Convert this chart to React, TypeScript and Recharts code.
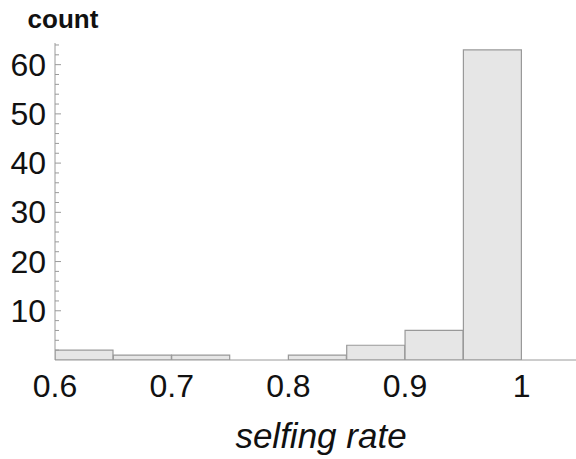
import React from "react";
import { BarChart, Bar, XAxis, YAxis } from "recharts";

const binCenters = [0.625, 0.675, 0.725, 0.775, 0.825, 0.875, 0.925, 0.975];
const counts = [2, 1, 1, 0, 1, 3, 6, 63];
const xTicks = [0.6, 0.7, 0.8, 0.9, 1];
const yTicks = [2, 4, 6, 8, 10, 12, 14, 16, 18, 20, 22, 24, 26, 28, 30, 32, 34, 36, 38, 40, 42, 44, 46, 48, 50, 52, 54, 56, 58, 60, 62, 64];
const yLabelTicks = [10, 20, 30, 40, 50, 60];

const data = binCenters.map((c, i) => ({ x: c, count: counts[i] }));

const FONT = "'Liberation Sans', Arial, sans-serif";
const AXIS = "#9a9a9a";

const YTick = (props: any) => {
  const { x, y, payload } = props;
  const v = payload.value;
  const major = yLabelTicks.includes(v);
  return (
    <g>
      <line x1={x} x2={x + (major ? 6 : 4)} y1={y} y2={y} stroke={AXIS} strokeWidth={1} />
      {major && (
        <text x={x - 9} y={y + 11} textAnchor="end" fontSize={32} fontFamily={FONT} fill="#111">
          {v}
        </text>
      )}
    </g>
  );
};

const XTick = (props: any) => {
  const { x, y, payload } = props;
  const v = payload.value;
  return (
    <text x={x} y={y + 37} textAnchor="middle" fontSize={32} fontFamily={FONT} fill="#111">
      {v === 1 ? "1" : v.toFixed(1)}
    </text>
  );
};

export default function App() {
  return (
    <div style={{ position: "absolute", left: 0, top: 0, background: "#fff" }}>
      <BarChart
        width={576}
        height={459}
        data={data}
        margin={{ top: 43, right: 0, bottom: 0, left: 0 }}
        barCategoryGap={0}
        barGap={0}
      >
        <XAxis
          dataKey="x"
          type="number"
          domain={[0.6, 1.0465]}
          allowDataOverflow
          ticks={xTicks}
          tick={<XTick />}
          tickLine={false}
          tickSize={0}
          tickMargin={0}
          height={99}
          stroke={AXIS}
          interval={0}
          label={{
            content: (p: any) => {
              const vb = p.viewBox;
              return (
                <text
                  x={vb.x + 266}
                  y={vb.y + 88}
                  textAnchor="middle"
                  fontSize={35}
                  fontStyle="italic"
                  fontFamily={FONT}
                  fill="#111"
                >
                  selfing rate
                </text>
              );
            },
          }}
        />
        <YAxis
          type="number"
          domain={[0, 64.4]}
          allowDataOverflow
          ticks={yTicks}
          tick={<YTick />}
          tickLine={false}
          tickSize={0}
          tickMargin={0}
          width={55}
          stroke={AXIS}
          interval={0}
          label={{
            content: (p: any) => {
              const vb = p.viewBox;
              return (
                <text
                  x={vb.x + 63}
                  y={vb.y - 15}
                  textAnchor="middle"
                  fontSize={26}
                  fontWeight="bold"
                  fontFamily={FONT}
                  fill="#111"
                >
                  count
                </text>
              );
            },
          }}
        />
        <Bar dataKey="count" fill="#e6e6e6" stroke="#999" strokeWidth={1.2} isAnimationActive={false} />
      </BarChart>
    </div>
  );
}
